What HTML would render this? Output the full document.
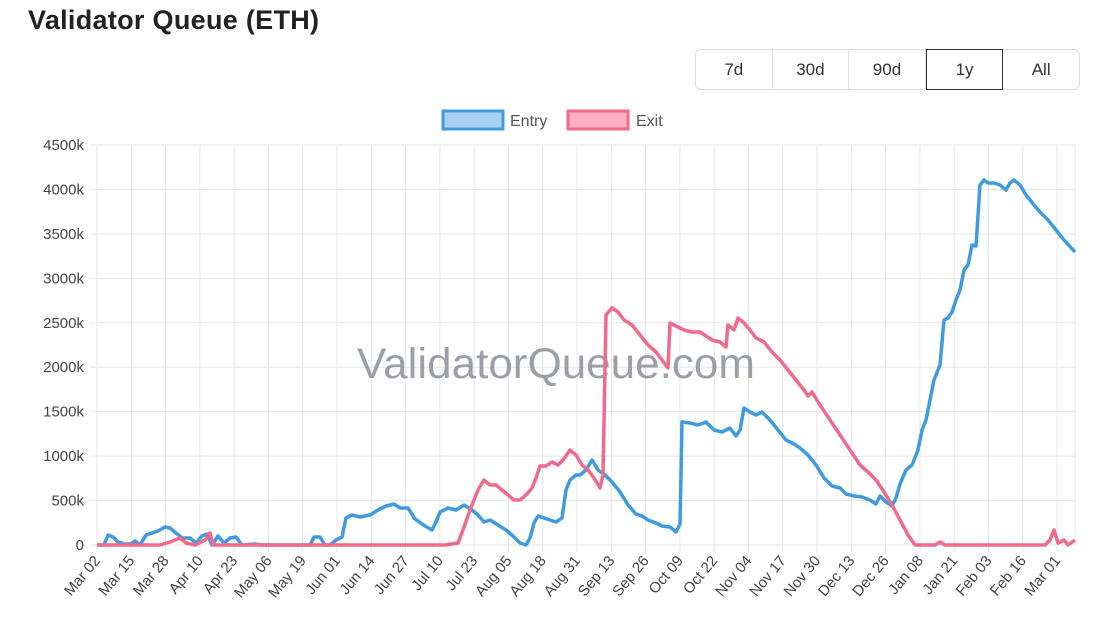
<!DOCTYPE html>
<html><head><meta charset="utf-8"><style>
body{margin:0;background:#fff;width:1096px;height:630px;overflow:hidden;font-family:"Liberation Sans",sans-serif}
.t{position:absolute;left:28px;top:5px;font-size:27px;font-weight:bold;color:#222;letter-spacing:0.3px}
.btns{position:absolute;left:695px;top:49px;width:385px;height:41px;border:1.5px solid #ddd;border-radius:6px;display:flex;box-sizing:border-box}
.btns div{flex:1;display:flex;align-items:center;justify-content:center;font-size:17px;color:#333;border-right:1px solid #e3e3e3}
.btns div:last-child{border-right:none}
.btns .a{border:1.5px solid #333;margin:-1px 0}
</style></head><body>
<div class="t">Validator Queue (ETH)</div>
<div class="btns"><div>7d</div><div>30d</div><div>90d</div><div class="a">1y</div><div>All</div></div>
<svg width="1096" height="630" style="position:absolute;left:0;top:0" font-family="Liberation Sans, sans-serif">
<g stroke="#e6e6e6" stroke-width="1" id="grid"></g>
<rect x="443" y="111" width="60" height="18" fill="#a8d0f0" stroke="#3e9be0" stroke-width="3"/>
<text x="510" y="126" font-size="16" fill="#555">Entry</text>
<rect x="568" y="111" width="60" height="18" fill="#f8b0c0" stroke="#f06a8a" stroke-width="3"/>
<text x="636" y="126" font-size="16" fill="#555">Exit</text>
<text x="556" y="378" font-size="43" fill="#8a8f98" text-anchor="middle" opacity="0.85" textLength="398" lengthAdjust="spacingAndGlyphs">ValidatorQueue.com</text>
<polyline fill="none" stroke="#3e9be0" stroke-width="3.5" stroke-linejoin="round" points="97,545 104,545 108,535 113,537 118,542 125,544 131,544 135,541 140,545 146,535 152,533 158,531 165,527 170,528 176,533 182,538 190,538 196,543 202,536 207,534 212,545 218,536 224,543 230,538 236,537 242,545 255,544 262,545 300,545 310,545 314,537 320,537 325,545 330,545 336,540 342,537 346,518 352,515 360,517 370,515 378,510 386,506 394,504 400,508 408,508 415,519 425,526 432,530 436,522 440,512 448,508 456,510 464,505 472,510 478,515 484,522 490,520 498,525 506,530 514,537 520,543 526,545 530,538 534,523 538,516 544,518 550,520 556,522 562,518 566,490 570,480 576,475 580,475 586,470 592,460 598,470 605,475 612,482 620,492 628,505 636,514 642,516 648,520 656,523 662,526 670,527 676,532 680,524 682,422 690,423 698,425 706,422 714,430 722,432 730,428 736,436 740,430 744,408 750,412 756,415 762,412 770,420 778,430 786,440 794,444 800,448 808,455 816,465 824,478 832,486 840,488 846,494 854,496 862,497 870,500 876,504 880,496 886,502 892,506 896,498 900,484 906,470 912,465 918,450 922,430 926,420 930,400 934,380 940,365 944,320 948,318 952,312 956,300 960,290 964,270 968,265 972,245 976,246 980,185 984,180 988,183 994,183 1000,185 1006,190 1010,183 1014,180 1020,185 1026,195 1034,205 1040,212 1048,220 1056,230 1064,240 1075,252"/>
<polyline fill="none" stroke="#f06a8a" stroke-width="3.5" stroke-linejoin="round" points="97,545 160,545 170,542 180,538 186,543 195,545 205,540 210,533 213,545 320,545 430,545 445,545 458,543 463,530 470,510 478,490 484,480 490,485 496,485 502,490 508,495 514,500 520,500 526,495 532,488 536,478 540,466 546,466 552,462 558,465 563,460 570,450 576,455 582,465 588,470 594,478 600,488 603,475 606,315 612,308 618,312 624,320 632,325 640,335 648,345 656,352 662,360 668,368 670,323 676,326 684,330 692,332 700,332 706,336 712,340 720,342 726,347 728,325 734,330 738,318 744,323 750,330 756,338 764,342 772,352 780,360 788,370 796,380 804,390 808,396 812,392 820,405 830,420 840,435 850,450 860,465 868,472 876,480 884,492 892,505 900,520 908,535 915,545 935,545 940,542 945,545 1045,545 1050,540 1054,530 1058,543 1064,540 1068,545 1075,540"/>
<g id="yl" font-size="15" fill="#444" text-anchor="end"></g>
<g id="xl" font-size="15" fill="#444" text-anchor="end"></g>
</svg>
<script>
var g=document.getElementById('grid'),yl=document.getElementById('yl'),xl=document.getElementById('xl'),ns='http://www.w3.org/2000/svg';
function el(t,a,p){var e=document.createElementNS(ns,t);for(var k in a)e.setAttribute(k,a[k]);p.appendChild(e);return e;}
for(var i=0;i<=9;i++){var y=545-i*400/9;el('line',{x1:90,x2:1075,y1:y,y2:y},g);var t=el('text',{x:84,y:y+5},yl);t.textContent=i==0?'0':(i*500)+'k';}
var L=['Mar 02','Mar 15','Mar 28','Apr 10','Apr 23','May 06','May 19','Jun 01','Jun 14','Jun 27','Jul 10','Jul 23','Aug 05','Aug 18','Aug 31','Sep 13','Sep 26','Oct 09','Oct 22','Nov 04','Nov 17','Nov 30','Dec 13','Dec 26','Jan 08','Jan 21','Feb 03','Feb 16','Mar 01'];
for(var j=0;j<L.length;j++){var x=97+j*34.29;el('line',{x1:x,x2:x,y1:145,y2:552},g);var t=el('text',{x:x+4,y:561,transform:'rotate(-50 '+(x+4)+' 561)'},xl);t.textContent=L[j];}
el('line',{x1:1075,x2:1075,y1:145,y2:545},g);
</script>
</body></html>
